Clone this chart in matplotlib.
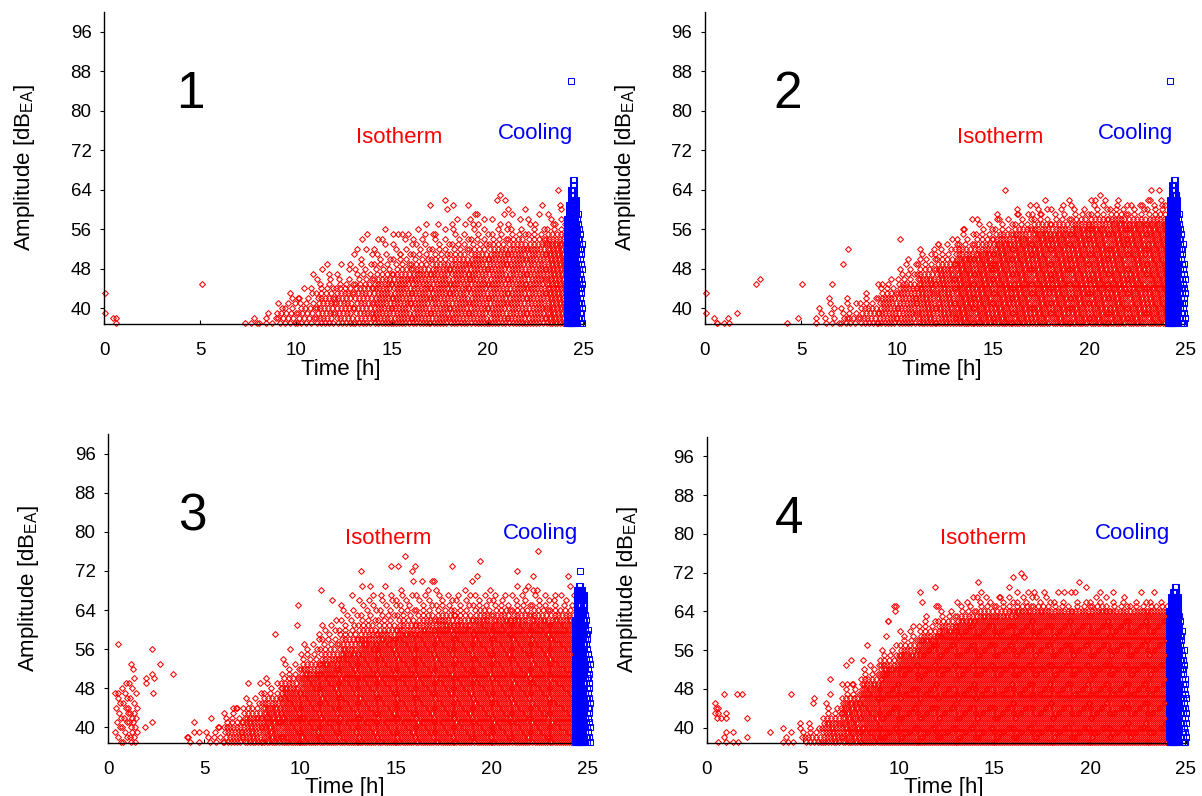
import matplotlib
matplotlib.use("Agg")
import matplotlib.pyplot as plt

plt.rcParams['font.family'] = ['Liberation Sans', 'DejaVu Sans']

# ------------------------------------------------------------------
# Data.
# Red "Isotherm" events: per time bin (bin start in h), the dB level up to
# which every 1-dB row is densely populated, the level up to which rows are
# (ever more sparsely) populated, and the event rate (events / h / dB row) of
# the dense part.
# Blue "Cooling" events: per 0.1 h bin, top dB level and events per row.
# Isolated events are listed explicitly as (time h, amplitude dB).
# ------------------------------------------------------------------
AMP_MIN = 37

# ---- Panel 1 ----
P1_BIN_START = [7.1, 8, 9, 10, 11, 12, 13, 14, 15, 16, 17, 18, 19, 20, 21, 22, 23]
P1_BIN_END = 24.1
P1_FULL_TOP = [37, 37, 39, 40, 42, 43, 44, 45, 46, 47, 48, 49, 50, 51, 52, 52, 53]
P1_SPARSE_TOP = [37, 39, 42, 44, 47, 49, 52, 54, 55, 56, 57, 58, 59, 59, 59, 59, 60]
P1_RATE = [3, 3, 4, 4, 5, 5, 5, 6, 6, 6, 6, 6, 6, 6, 6, 6, 7]
P1_SPARSE_RATE = 1.0
P1_EXTRA = [(0.03, 43), (0.03, 39), (0.45, 38), (0.6, 38), (0.62, 37), (5.09, 45),
            (7.8, 38), (8.99, 39), (9.43, 40), (9.69, 43), (9.95, 41), (10.17, 42),
            (10.78, 44), (10.9, 47), (11.34, 48), (11.6, 49), (11.77, 46), (12.81, 49),
            (13.19, 52), (13.42, 54), (13.68, 55), (13.94, 51), (14.46, 54), (14.64, 56),
            (15.07, 55), (15.42, 51), (15.5, 55), (15.82, 55), (16.02, 53), (16.55, 54),
            (16.77, 57), (16.98, 61), (17.24, 55), (17.76, 62), (17.85, 60), (18.1, 57),
            (18.16, 61), (18.98, 61), (19.06, 58), (19.32, 59), (19.5, 57), (20.45, 62),
            (20.63, 63), (20.89, 62), (21.06, 60), (21.93, 60), (22.19, 57), (22.8, 61),
            (23.4, 57), (23.66, 64), (23.75, 61)]
P1_BLUE_START = [24.1, 24.2, 24.3, 24.4, 24.5, 24.6, 24.7, 24.8]
P1_BLUE_TOP = [58, 61, 64, 66, 62, 59, 56, 53]
P1_BLUE_PER_ROW = [3, 3, 3, 2, 2, 1, 1, 1]
P1_BLUE_EXTRA = [(24.3, 86)]

# ---- Panel 2 ----
P2_BIN_START = [6, 7, 8, 9, 10, 11, 12, 13, 14, 15, 16, 17, 18, 19, 20, 21, 22, 23]
P2_BIN_END = 24.1
P2_FULL_TOP = [37, 38, 40, 42, 44, 46, 48, 50, 51, 53, 54, 55, 55, 56, 56, 57, 57, 57]
P2_SPARSE_TOP = [40, 42, 43, 46, 50, 52, 54, 56, 58, 59, 60, 61, 61, 61, 62, 62, 61, 62]
P2_RATE = [3, 4, 5, 6, 6, 7, 7, 8, 8, 8, 8, 8, 8, 8, 8, 8, 8, 8]
P2_SPARSE_RATE = 1.5
P2_EXTRA = [(0.05, 43), (0.05, 39), (0.47, 38), (0.6, 37), (0.62, 37), (0.99, 37),
            (1.22, 38), (1.26, 37), (1.68, 39), (2.66, 45), (2.86, 46), (4.25, 37),
            (4.83, 38), (5.07, 45), (5.78, 38), (5.8, 37), (5.94, 40), (6.44, 42),
            (6.5, 41), (6.63, 45), (7.2, 49), (7.43, 52), (7.4, 38), (9.2, 45),
            (10.16, 54), (11.2, 50), (11.95, 52), (12.15, 53), (13.11, 53), (13.45, 56),
            (13.89, 58), (15.2, 58), (15.62, 64), (16.23, 59), (16.93, 61), (17.45, 59),
            (17.7, 62), (18.97, 62), (20.31, 62), (20.57, 63), (20.83, 62), (22.74, 61),
            (23.09, 62), (23.23, 64), (23.66, 64), (23.78, 61)]
P2_BLUE_START = [24.1, 24.2, 24.3, 24.4, 24.5, 24.6, 24.7, 24.8, 24.9]
P2_BLUE_TOP = [58, 62, 65, 66, 63, 59, 56, 53, 49]
P2_BLUE_PER_ROW = [3, 3, 3, 2, 2, 1, 1, 1, 1]
P2_BLUE_EXTRA = [(24.2, 86)]

# ---- Panel 3 ----
P3_BIN_START = [0.35, 0.7, 1.05, 1.5, 4, 5, 6, 7, 8, 9, 10, 11, 12, 13, 14, 15, 16,
                17, 18, 19, 20, 21, 22, 23]
P3_BIN_END = 24.3
P3_FULL_TOP = [40, 42, 43, 0, 37, 38, 40, 42, 44, 47, 50, 52, 54, 56, 57, 58, 59,
               60, 60, 61, 61, 61, 61, 61]
P3_SPARSE_TOP = [47, 49, 50, 0, 39, 40, 44, 47, 50, 54, 58, 62, 65, 67, 67, 68, 68,
                 68, 67, 68, 67, 68, 68, 67]
P3_RATE = [4, 4, 4, 0, 2, 3, 6, 7, 8, 9, 9, 9, 9, 9, 9, 9, 9, 9, 9, 9, 9, 9, 9, 9]
P3_SPARSE_RATE = 1.5
P3_EXTRA = [(0.54, 57), (0.54, 47), (1.18, 53), (1.31, 52), (2.27, 56), (2.71, 53),
            (3.4, 51), (2.27, 51), (2.4, 50), (2.0, 50), (2.0, 49), (2.33, 47),
            (2.27, 41), (1.95, 40), (1.5, 44), (4.1, 38), (4.48, 41), (4.48, 39),
            (5.35, 42), (5.75, 40), (6.53, 44), (6.7, 44), (7.31, 49), (7.9, 49),
            (8.7, 59), (9.91, 65), (9.82, 61), (9.48, 56), (11.08, 68), (11.65, 66),
            (12.69, 67), (13.16, 72), (13.21, 69), (13.65, 69), (14.43, 69), (14.72, 67),
            (14.72, 73), (15.12, 73), (15.47, 75), (15.82, 72), (15.9, 70), (16.0, 73),
            (16.37, 70), (16.86, 70), (17.0, 70), (17.9, 73), (18.25, 67), (18.6, 68),
            (18.94, 70), (19.24, 71), (19.38, 74), (20.16, 67), (21.28, 69), (21.32, 72),
            (21.89, 69), (22.12, 71), (22.32, 68), (22.41, 76), (23.28, 67), (23.98, 71),
            (24.06, 69)]
P3_BLUE_START = [24.3, 24.4, 24.5, 24.6, 24.7, 24.8, 24.9, 25.0]
P3_BLUE_TOP = [62, 68, 69, 68, 67, 63, 60, 55]
P3_BLUE_PER_ROW = [2, 3, 3, 2, 2, 1, 1, 1]
P3_BLUE_EXTRA = [(24.6, 72)]

# ---- Panel 4 ----
P4_BIN_START = [5, 6, 7, 8, 9, 10, 11, 12, 13, 14, 15, 16, 17, 18, 19, 20, 21, 22, 23]
P4_BIN_END = 24.1
P4_FULL_TOP = [38, 41, 45, 48, 51, 54, 57, 59, 61, 62, 62, 63, 63, 63, 63, 63, 63, 63, 63]
P4_SPARSE_TOP = [41, 45, 49, 53, 57, 61, 63, 65, 66, 67, 67, 67, 67, 66, 66, 67, 66, 66, 66]
P4_RATE = [5, 7, 8, 9, 10, 10, 10, 10, 10, 10, 10, 10, 10, 10, 10, 10, 10, 10, 10]
P4_SPARSE_RATE = 1.5
P4_EXTRA = [(0.42, 45), (0.45, 44), (0.4, 43), (0.5, 42), (0.58, 43), (0.6, 44),
            (0.72, 42), (0.89, 47), (0.97, 43), (0.97, 42), (0.97, 39), (0.89, 38),
            (0.58, 37), (0.97, 37), (1.34, 39), (1.34, 37), (1.6, 37), (1.59, 47),
            (1.82, 47), (2.08, 42), (2.08, 38), (3.3, 39), (3.96, 40), (3.96, 37),
            (4.13, 38), (4.37, 39), (4.25, 37), (4.5, 37), (4.4, 47), (4.83, 41),
            (4.83, 40), (4.95, 38), (5.57, 46), (5.53, 45), (6.44, 50), (6.44, 47),
            (7.23, 53), (7.49, 54), (7.3, 49), (7.6, 49), (8.15, 54), (8.36, 57),
            (9.32, 59), (9.45, 62), (9.8, 64), (9.85, 65), (9.44, 62), (9.76, 65),
            (11.12, 68), (11.24, 66), (11.88, 69), (11.94, 65), (13.86, 67), (14.12, 70),
            (14.3, 68), (15.25, 67), (15.78, 69), (15.95, 71), (16.2, 68), (16.39, 72),
            (16.56, 71), (16.74, 68), (17.08, 68), (17.6, 68), (18.3, 68), (18.65, 68),
            (18.99, 68), (19.2, 68), (19.44, 70), (19.8, 69), (20.5, 68), (21.2, 68),
            (21.76, 67), (22.66, 68), (23.35, 68)]
P4_BLUE_START = [24.1, 24.2, 24.3, 24.4, 24.5, 24.6, 24.7, 24.8, 24.9]
P4_BLUE_TOP = [64, 67, 68, 69, 67, 64, 60, 56, 50]
P4_BLUE_PER_ROW = [2, 3, 3, 3, 2, 1, 1, 1, 1]
P4_BLUE_EXTRA = []

X_TICKS = [0, 5, 10, 15, 20, 25]
Y_TICKS = [40, 48, 56, 64, 72, 80, 88, 96]
PANEL_LABELS = ['1', '2', '3', '4']


def expand_bins(starts, end, full_top, sparse_top, rate, sparse_rate):
    """Spread the events of each (bin, dB row) evenly over the bin.
    Above the dense level the rate falls off towards the sparse rate."""
    ts, amps = [], []
    edges = list(starts) + [end]
    for i in range(len(starts)):
        t0, t1 = edges[i], edges[i + 1]
        full = full_top[i]
        top = max(full, sparse_top[i])
        for a in range(AMP_MIN, top + 1):
            if a <= full:
                r = rate[i]
            else:
                f = (a - full) / float(top - full + 1)
                r = rate[i] * (1 - f) ** 2 + sparse_rate * f
            n = int(round((t1 - t0) * r))
            if n < 1:
                n = 1
            ph = (a * 0.618034 + i * 0.414214) % 1.0
            for k in range(n):
                ts.append(t0 + (k + ph) * (t1 - t0) / n)
                amps.append(a)
    return ts, amps


def blue_points(starts, tops, per_row, extra):
    ts, amps = [], []
    for i, t0 in enumerate(starts):
        n = per_row[i]
        for a in range(AMP_MIN, tops[i] + 1):
            ph = (a * 0.618034 + i * 0.3) % 1.0
            for k in range(n):
                ts.append(t0 + (k + ph) * 0.1 / n)
                amps.append(a)
    for t, a in extra:
        ts.append(t)
        amps.append(a)
    return ts, amps


panels = [
    dict(red=(P1_BIN_START, P1_BIN_END, P1_FULL_TOP, P1_SPARSE_TOP, P1_RATE, P1_SPARSE_RATE),
         extra=P1_EXTRA, blue=(P1_BLUE_START, P1_BLUE_TOP, P1_BLUE_PER_ROW, P1_BLUE_EXTRA),
         pos=[104 / 1202, 1 - 324 / 796, 480 / 1202, 312 / 796],
         num=(4.5, 83.3), iso=(15.4, 74.6), cool=(22.45, 75.4)),
    dict(red=(P2_BIN_START, P2_BIN_END, P2_FULL_TOP, P2_SPARSE_TOP, P2_RATE, P2_SPARSE_RATE),
         extra=P2_EXTRA, blue=(P2_BLUE_START, P2_BLUE_TOP, P2_BLUE_PER_ROW, P2_BLUE_EXTRA),
         pos=[705 / 1202, 1 - 324 / 796, 480 / 1202, 312 / 796],
         num=(4.3, 83.3), iso=(15.4, 74.6), cool=(22.4, 75.4)),
    dict(red=(P3_BIN_START, P3_BIN_END, P3_FULL_TOP, P3_SPARSE_TOP, P3_RATE, P3_SPARSE_RATE),
         extra=P3_EXTRA, blue=(P3_BLUE_START, P3_BLUE_TOP, P3_BLUE_PER_ROW, P3_BLUE_EXTRA),
         pos=[108 / 1202, 1 - 743 / 796, 480 / 1202, 309 / 796],
         num=(4.4, 83.1), iso=(14.6, 78.7), cool=(22.5, 79.7)),
    dict(red=(P4_BIN_START, P4_BIN_END, P4_FULL_TOP, P4_SPARSE_TOP, P4_RATE, P4_SPARSE_RATE),
         extra=P4_EXTRA, blue=(P4_BLUE_START, P4_BLUE_TOP, P4_BLUE_PER_ROW, P4_BLUE_EXTRA),
         pos=[707 / 1202, 1 - 743 / 796, 479 / 1202, 306 / 796],
         num=(4.3, 83.0), iso=(14.4, 79.1), cool=(22.2, 80.1)),
]

fig = plt.figure(figsize=(12.02, 7.96), dpi=100)

for idx, p in enumerate(panels):
    ax = fig.add_axes(p['pos'])
    rt, ra = expand_bins(*p['red'])
    for t, a in p['extra']:
        rt.append(t)
        ra.append(a)
    ax.plot(rt, ra, linestyle='none', marker='D', markersize=3.0,
            markerfacecolor='none', markeredgecolor='#ff0000', markeredgewidth=0.75,
            clip_on=False, zorder=2)
    bt, ba = blue_points(*p['blue'])
    ax.plot(bt, ba, linestyle='none', marker='s', markersize=4.8,
            markerfacecolor='none', markeredgecolor='#0000ff', markeredgewidth=0.75,
            clip_on=False, zorder=3)

    ax.set_xlim(0, 25)
    ax.set_ylim(36.8, 100)
    ax.set_xticks(X_TICKS)
    ax.set_yticks(Y_TICKS)
    ax.spines['top'].set_visible(False)
    ax.spines['right'].set_visible(False)
    for s in ('left', 'bottom'):
        ax.spines[s].set_linewidth(1.0)
        ax.spines[s].set_color('black')
    ax.tick_params(axis='x', direction='in', length=3, width=0.8, pad=13, labelsize=13.5)
    ax.tick_params(axis='y', direction='out', length=3, width=0.8, pad=6, labelsize=13.5)
    ax.set_facecolor('none')

    ax.text(0.494, -0.145, 'Time [h]', transform=ax.transAxes, ha='center', va='center',
            fontsize=16)
    ax.text(-0.165, 0.5, r'Amplitude [dB$_{\mathregular{EA}}$]', transform=ax.transAxes,
            rotation=90, ha='center', va='center', fontsize=16)
    ax.text(p['num'][0], p['num'][1], PANEL_LABELS[idx], ha='center', va='center',
            fontsize=37)
    ax.text(p['iso'][0], p['iso'][1], 'Isotherm', color='#ff0000', ha='center',
            va='center', fontsize=16)
    ax.text(p['cool'][0], p['cool'][1], 'Cooling', color='#0000ff', ha='center',
            va='center', fontsize=16)

fig.savefig('out.png', dpi=100)
